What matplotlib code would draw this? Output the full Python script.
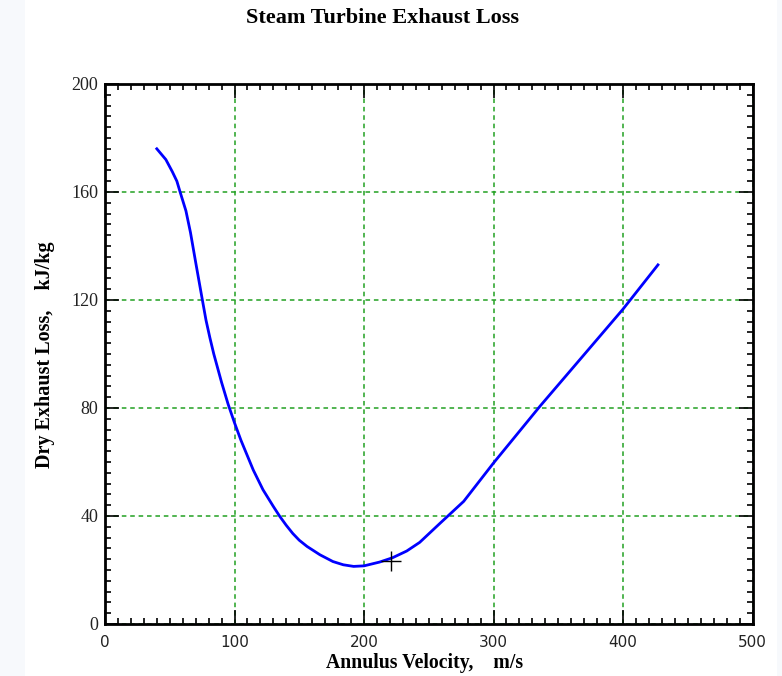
import matplotlib
matplotlib.use("Agg")
import matplotlib.pyplot as plt
from matplotlib.ticker import MultipleLocator
from matplotlib.patches import Rectangle

# Data
velocity = [40, 47, 52, 55.5, 58, 62.5, 66, 70, 75, 78, 81, 84, 90, 95, 100,
            105, 114.5, 122, 130, 135, 140, 145, 150, 156, 166, 176, 184, 192,
            200, 212, 222, 233, 243, 259, 277, 300, 336, 369, 400, 427]
loss = [176, 172, 167.5, 164, 160, 153, 145, 134, 120.5, 112.5, 106, 100, 89.5,
        81.5, 74.5, 68, 57, 49.7, 43.5, 39.8, 36.5, 33.5, 31, 28.7, 25.6, 23.1,
        21.9, 21.3, 21.5, 22.9, 24.5, 27, 30.2, 37.4, 45.4, 59.6, 80.7, 99.2,
        116.6, 133]
marker_x = [220.6]
marker_y = [23.4]

title = "Steam Turbine Exhaust Loss"
xlabel = "Annulus Velocity,    m/s"
ylabel = "Dry Exhaust Loss,    kJ/kg"

W, H = 782, 676
fig = plt.figure(figsize=(W / 100, H / 100), dpi=100)
fig.patch.set_facecolor("white")
fig.patches.append(Rectangle((0, 0), 25 / W, 1, transform=fig.transFigure,
                             facecolor="#f7f9fc", edgecolor="none", zorder=-10))
fig.patches.append(Rectangle((777 / W, 0), 5 / W, 1, transform=fig.transFigure,
                             facecolor="#f7f9fc", edgecolor="none", zorder=-10))

ax = fig.add_axes([105 / W, 1 - 623.9 / H, (752.5 - 105) / W, (623.9 - 84) / H])
ax.set_xlim(0, 500)
ax.set_ylim(0, 200)

ax.plot(velocity, loss, color="#0000ff", lw=2.0, zorder=3)
ax.plot(marker_x, marker_y, marker="+", color="black", markersize=14,
        markeredgewidth=1.0, linestyle="none", zorder=4)

ax.xaxis.set_major_locator(MultipleLocator(100))
ax.xaxis.set_minor_locator(MultipleLocator(10))
ax.yaxis.set_major_locator(MultipleLocator(40))
ax.yaxis.set_minor_locator(MultipleLocator(4))

ax.grid(True, which="major", color="#22a022", linestyle=(0, (3, 2.5)), lw=1.1)
ax.tick_params(which="both", direction="in", top=True, right=True, color="black")
ax.tick_params(which="major", length=10, width=1.2, pad=8)
ax.tick_params(which="minor", length=4.5, width=1.2)
for s in ax.spines.values():
    s.set_linewidth(2)
    s.set_color("black")

for lab in ax.get_xticklabels():
    lab.set_fontfamily("DejaVu Sans")
    lab.set_fontsize(11)
    lab.set_color("#222222")
for lab in ax.get_yticklabels():
    lab.set_fontfamily("Liberation Serif")
    lab.set_fontsize(13)
    lab.set_color("#222222")
ax.tick_params(axis="y", pad=5)

fig.text(383 / W, 1 - 18 / H, title, ha="center", va="center",
         fontfamily="Liberation Serif", fontweight="bold", fontsize=16)
fig.text(425 / W, 1 - 663 / H, xlabel, ha="center", va="center",
         fontfamily="Liberation Serif", fontweight="bold", fontsize=14.2)
fig.text(45 / W, 1 - 355 / H, ylabel, ha="center", va="center", rotation=90,
         fontfamily="Liberation Serif", fontweight="bold", fontsize=14.5)

fig.savefig("out.png", dpi=100, facecolor=fig.get_facecolor())
